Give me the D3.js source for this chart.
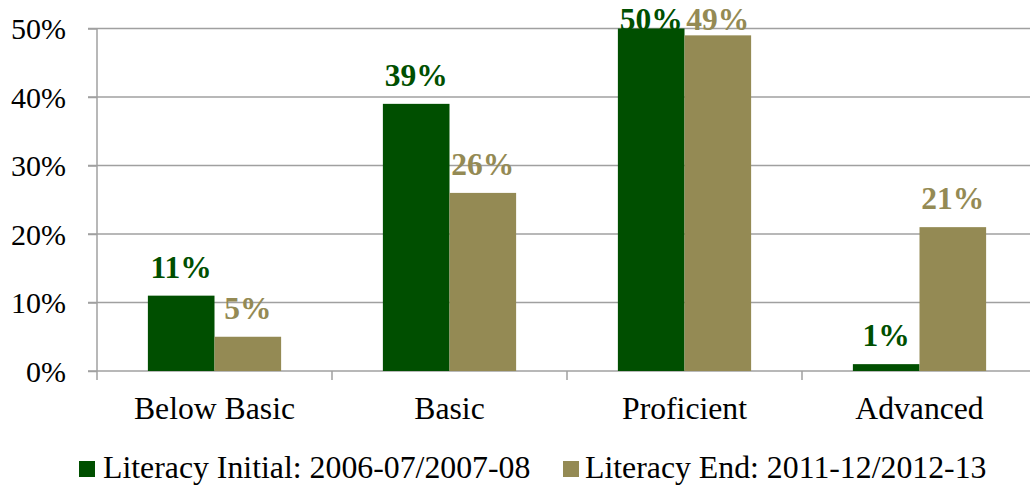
<!DOCTYPE html>
<html>
<head>
<meta charset="utf-8">
<script src="https://cdn.jsdelivr.net/npm/d3@7"></script>
<style>
  html, body { margin: 0; padding: 0; background: #fff; }
  svg { display: block; }
  svg text { font-family: "Times New Roman", "Liberation Serif", Tinos, Times, serif !important; }
</style>
</head>
<body>
<svg id="chart" width="1030" height="491"></svg>
<script>
const categories = ["Below Basic", "Basic", "Proficient", "Advanced"];
const seriesNames = ["Literacy Initial: 2006-07/2007-08", "Literacy End: 2011-12/2012-13"];
const initialValues = [11, 39, 50, 1];
const endValues = [5, 26, 49, 21];
const yTicks = [0, 10, 20, 30, 40, 50];
const colors = ["#004f00", "#948a54"];

(function () {
const FONT = "'Times New Roman', 'Liberation Serif', Tinos, Times, serif";
const svg = d3.select("#chart");
const plotLeft = 97, plotRight = 1037, plotTop = 28.5, plotBottom = 371;

const series = [initialValues, endValues];

const x0 = d3.scaleBand().domain(categories).range([plotLeft, plotRight])
  .paddingInner(0.433).paddingOuter(0.2165);
const x1 = d3.scaleBand().domain([0, 1]).range([0, x0.bandwidth()]);
const y = d3.scaleLinear().domain([0, 50]).range([plotBottom, plotTop]);

const gridColor = "#a0a0a0";

// gridlines
svg.append("g").selectAll("line").data(yTicks.filter(d => d > 0)).join("line")
  .attr("x1", plotLeft - 9).attr("x2", plotRight)
  .attr("y1", d => y(d)).attr("y2", d => y(d))
  .attr("stroke", gridColor).attr("stroke-width", 1.5);

// y axis
const yAxis = d3.axisLeft(y).tickValues(yTicks).tickFormat(d => d + "%").tickSize(9).tickPadding(22);
const gy = svg.append("g").attr("transform", `translate(${plotLeft},0)`).call(yAxis)
  .attr("font-family", FONT);
gy.select(".domain").remove();
gy.selectAll(".tick line").attr("stroke", gridColor).attr("stroke-width", 1.5);
gy.selectAll(".tick text").attr("font-size", 30).attr("fill", "#000")
  .style("font-family", FONT).attr("dy", "0.34em");
svg.append("line").attr("x1", plotLeft).attr("x2", plotLeft).attr("y1", plotTop).attr("y2", plotBottom + 9)
  .attr("stroke", gridColor).attr("stroke-width", 1.5);

// x axis
svg.append("line").attr("x1", plotLeft - 9).attr("x2", plotRight).attr("y1", plotBottom).attr("y2", plotBottom)
  .attr("stroke", gridColor).attr("stroke-width", 1.5);
const step = x0.step();
const outer = step * 0.2165;
svg.append("g").selectAll("line").data(categories).join("line")
  .attr("x1", d => x0(d) - outer + step)
  .attr("x2", d => x0(d) - outer + step)
  .attr("y1", plotBottom).attr("y2", plotBottom + 9)
  .attr("stroke", gridColor).attr("stroke-width", 1.5);
svg.append("g").selectAll("text").data(categories).join("text")
  .attr("x", d => x0(d) + x0.bandwidth() / 2)
  .attr("y", 419)
  .attr("text-anchor", "middle").attr("font-size", 31.7).attr("fill", "#000")
  .style("font-family", FONT)
  .text(d => d);

// bars
const groups = svg.append("g").selectAll("g").data(categories).join("g")
  .attr("transform", d => `translate(${x0(d)},0)`);
groups.selectAll("rect").data((d, i) => series.map((s, k) => ({ k, v: s[i] }))).join("rect")
  .attr("x", d => x1(d.k)).attr("width", x1.bandwidth())
  .attr("y", d => y(d.v)).attr("height", d => y(0) - y(d.v))
  .attr("fill", d => colors[d.k]);
groups.selectAll("text").data((d, i) => series.map((s, k) => ({ k, v: s[i] }))).join("text")
  .attr("x", d => x1(d.k) + x1.bandwidth() / 2)
  .attr("y", d => Math.max(y(d.v) - 18, 30))
  .attr("text-anchor", "middle").attr("font-size", 31.5).attr("font-weight", "bold")
  .attr("fill", d => colors[d.k])
  .style("font-family", FONT)
  .text(d => d.v + "%");

// legend
const legendX = [79, 563];
const lg = svg.append("g").selectAll("g").data(seriesNames).join("g")
  .attr("transform", (d, i) => `translate(${legendX[i]},0)`);
lg.append("rect").attr("x", 0).attr("y", 461).attr("width", 16).attr("height", 16)
  .attr("fill", (d, i) => colors[i]);
lg.append("text").attr("x", (d, i) => i === 0 ? 24 : 22).attr("y", 478)
  .attr("font-size", 31.8).attr("fill", "#000").style("font-family", FONT).text(d => d);
})();
</script>
</body>
</html>
